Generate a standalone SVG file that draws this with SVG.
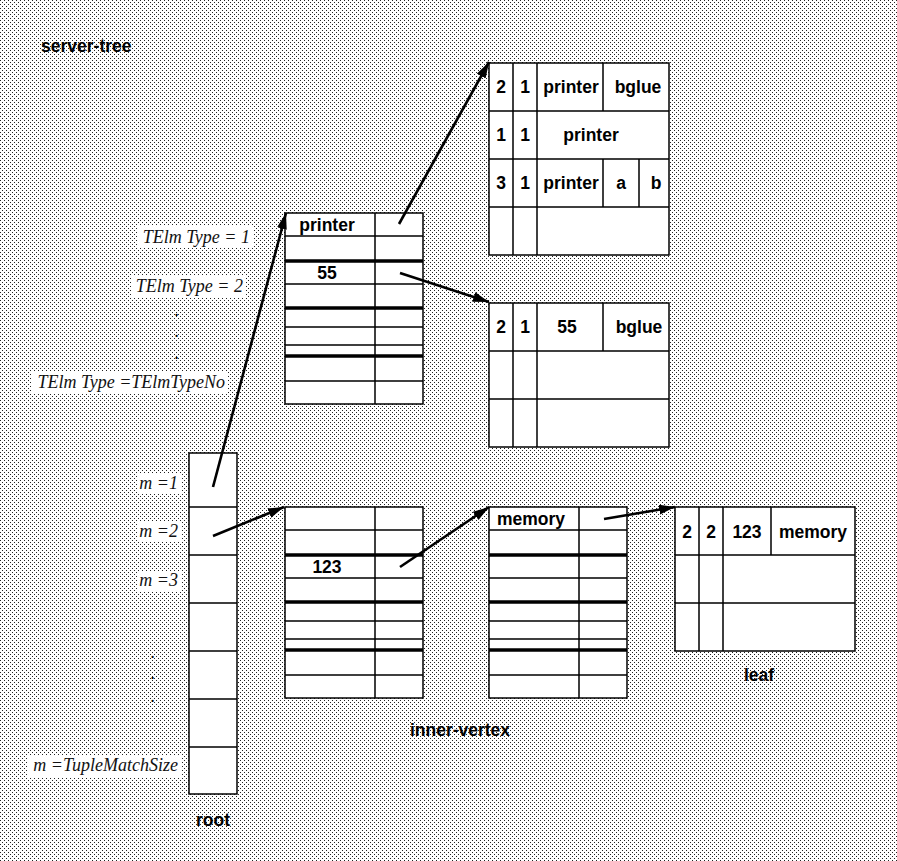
<svg xmlns="http://www.w3.org/2000/svg" width="897" height="861" viewBox="0 0 897 861">
<defs>
<pattern id="stip" width="4" height="4" patternUnits="userSpaceOnUse">
<rect width="4" height="4" fill="#ffffff"/>
<rect x="0" y="0" width="1" height="1" fill="#222"/>
<rect x="2" y="2" width="1" height="1" fill="#222"/>
</pattern>
<marker id="ah" markerWidth="18" markerHeight="12" refX="16" refY="5" orient="auto" markerUnits="userSpaceOnUse">
<path d="M0,0 L16,5 L0,10 Z" fill="#000"/>
</marker>
</defs>
<style>
.cell{fill:#fff;stroke:#000;stroke-width:1.5}
.ln{stroke:#000;stroke-width:1.5;fill:none}
.th{stroke:#000;stroke-width:3.5;fill:none}
.b{font-family:"Liberation Sans",Arial,sans-serif;font-weight:bold;font-size:17.5px;fill:#000;text-anchor:middle}
.i{font-family:"Liberation Serif","Times New Roman",serif;font-style:italic;font-size:18px;fill:#111;text-anchor:end}
.d{font-family:"Liberation Serif","Times New Roman",serif;font-style:italic;font-size:18px;fill:#000;text-anchor:middle}
.wb{fill:#fff}
.arr{stroke:#000;stroke-width:2.6;fill:none;marker-end:url(#ah)}
</style>
<rect width="897" height="861" fill="url(#stip)"/>
<text class="b" x="41" y="52" style="text-anchor:start">server-tree</text>

<g id="labels">
<rect class="wb" x="138" y="226" width="115" height="22"/>
<text class="i" x="250" y="243">TElm Type = 1</text>
<rect class="wb" x="131" y="275" width="115" height="22"/>
<text class="i" x="243" y="292">TElm Type = 2</text>
<text class="d" x="177" y="316">.</text>
<text class="d" x="177" y="337">.</text>
<text class="d" x="177" y="359">.</text>
<rect class="wb" x="32" y="371" width="196" height="22"/>
<text class="i" x="225" y="388">TElm Type =TElmTypeNo</text>
<rect class="wb" x="137" y="474" width="45" height="20"/>
<text class="i" x="178" y="489">m =1</text>
<rect class="wb" x="137" y="522" width="45" height="20"/>
<text class="i" x="178" y="537">m =2</text>
<rect class="wb" x="137" y="571" width="45" height="20"/>
<text class="i" x="178" y="586">m =3</text>
<text class="d" x="153" y="658">.</text>
<text class="d" x="153" y="679">.</text>
<text class="d" x="153" y="702">.</text>
<rect class="wb" x="28" y="755" width="154" height="22"/>
<text class="i" x="178" y="771">m =TupleMatchSize</text>
</g>

<g id="root">
<rect class="cell" x="189" y="453" width="48" height="341"/>
<path class="ln" d="M189,507H237M189,555H237M189,603H237M189,651H237M189,699H237M189,747H237"/>
<text class="b" x="213" y="826">root</text>
</g>

<g id="inner1">
<rect class="cell" x="285" y="213" width="138" height="191"/>
<path class="ln" d="M375,213V404M285,236H423M285,284H423M285,327H423M285,345H423M285,381H423"/>
<path class="th" d="M285,261H423M285,308H423M285,356H423"/>
<text class="b" x="327" y="231">printer</text>
<text class="b" x="327" y="279">55</text>
</g>

<g id="inner2">
<rect class="cell" x="285" y="507" width="138" height="191"/>
<path class="ln" d="M375,507V698M285,530H423M285,578H423M285,621H423M285,639H423M285,675H423"/>
<path class="th" d="M285,555H423M285,602H423M285,650H423"/>
<text class="b" x="327" y="573">123</text>
</g>

<g id="inner3">
<rect class="cell" x="489" y="507" width="138" height="191"/>
<path class="ln" d="M579,507V698M489,530H627M489,578H627M489,621H627M489,639H627M489,675H627"/>
<path class="th" d="M489,555H627M489,602H627M489,650H627"/>
<text class="b" x="531" y="525">memory</text>
</g>
<text class="b" x="460" y="736">inner-vertex</text>

<g id="leafA">
<rect class="cell" x="489" y="63" width="180" height="192"/>
<path class="ln" d="M513,63V255M537,63V255M489,111H669M489,159H669M489,207H669M603,63V111M603,159V207M639,159V207"/>
<text class="b" x="501" y="93">2</text>
<text class="b" x="525" y="93">1</text>
<text class="b" x="571" y="93">printer</text>
<text class="b" x="638" y="93">bglue</text>
<text class="b" x="501" y="141">1</text>
<text class="b" x="525" y="141">1</text>
<text class="b" x="591" y="141">printer</text>
<text class="b" x="501" y="189">3</text>
<text class="b" x="525" y="189">1</text>
<text class="b" x="571" y="189">printer</text>
<text class="b" x="621" y="189">a</text>
<text class="b" x="656" y="189">b</text>
</g>

<g id="leafB">
<rect class="cell" x="489" y="303" width="180" height="144"/>
<path class="ln" d="M513,303V447M537,303V447M489,351H669M489,399H669M603,303V351"/>
<text class="b" x="501" y="333">2</text>
<text class="b" x="525" y="333">1</text>
<text class="b" x="567" y="333">55</text>
<text class="b" x="639" y="333">bglue</text>
</g>

<g id="leaf">
<rect class="cell" x="675" y="507" width="180" height="144"/>
<path class="ln" d="M699,507V651M723,507V651M675,555H855M675,603H855M771,507V555"/>
<text class="b" x="687" y="538">2</text>
<text class="b" x="711" y="538">2</text>
<text class="b" x="747" y="538">123</text>
<text class="b" x="813" y="538">memory</text>
<text class="b" x="759" y="681">leaf</text>
</g>

<g id="connectors">
<line class="arr" x1="213" y1="487" x2="286" y2="213"/>
<line class="arr" x1="213" y1="536" x2="284" y2="507"/>
<line class="arr" x1="399" y1="224" x2="489" y2="62"/>
<line class="arr" x1="400" y1="273" x2="489" y2="302"/>
<line class="arr" x1="400" y1="567" x2="489" y2="507"/>
<line class="arr" x1="604" y1="519" x2="675" y2="507"/>
</g>
</svg>
